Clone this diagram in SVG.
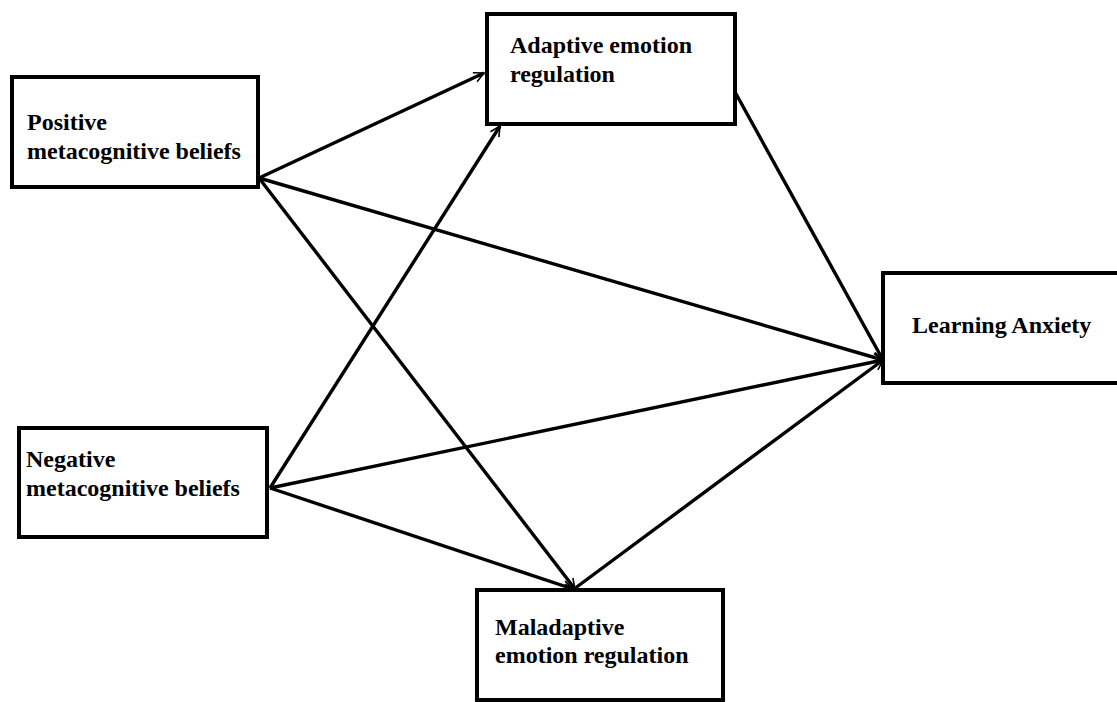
<svg xmlns="http://www.w3.org/2000/svg" width="1117" height="702" viewBox="0 0 1117 702">
<style>
.box{fill:#fff;stroke:#000;stroke-width:4}
.lbl{font-family:"Liberation Serif","Times New Roman",serif;font-weight:bold;font-size:24px;fill:#000}
.edge{stroke:#000;stroke-width:3.4;fill:none;marker-end:url(#ah)}
</style>
<defs>
<marker id="ah" markerUnits="userSpaceOnUse" markerWidth="14" markerHeight="14" refX="11" refY="6" orient="auto">
<path d="M1,1 L11,6 L1,11" fill="none" stroke="#000" stroke-width="1.6"/>
</marker>
</defs>
<rect width="1117" height="702" fill="#fff"/>
<g id="connectors">
<line class="edge" x1="259" y1="178" x2="484" y2="73"/>
<line class="edge" x1="259" y1="178" x2="883" y2="360"/>
<line class="edge" x1="259" y1="178" x2="575" y2="589"/>
<line class="edge" x1="270" y1="488" x2="500" y2="126"/>
<line class="edge" x1="270" y1="488" x2="883" y2="360"/>
<line class="edge" x1="270" y1="488" x2="573" y2="589"/>
<line class="edge" x1="735" y1="92" x2="883" y2="360"/>
<line class="edge" x1="574" y1="589" x2="883" y2="360"/>
</g>
<g id="positive">
<rect class="box" x="12" y="77" width="246" height="110"/>
<text class="lbl" x="27" y="130">Positive</text>
<text class="lbl" x="27" y="159">metacognitive beliefs</text>
</g>
<g id="negative">
<rect class="box" x="19" y="428" width="248" height="109"/>
<text class="lbl" x="26" y="467">Negative</text>
<text class="lbl" x="26" y="496">metacognitive beliefs</text>
</g>
<g id="adaptive">
<rect class="box" x="487" y="14" width="248" height="110"/>
<text class="lbl" x="510" y="53">Adaptive emotion</text>
<text class="lbl" x="510" y="82">regulation</text>
</g>
<g id="learning">
<rect class="box" x="883" y="273" width="245" height="110"/>
<text class="lbl" x="912" y="333">Learning Anxiety</text>
</g>
<g id="maladaptive">
<rect class="box" x="477" y="590" width="246" height="110"/>
<text class="lbl" x="495" y="635">Maladaptive</text>
<text class="lbl" x="495" y="663">emotion regulation</text>
</g>
</svg>
